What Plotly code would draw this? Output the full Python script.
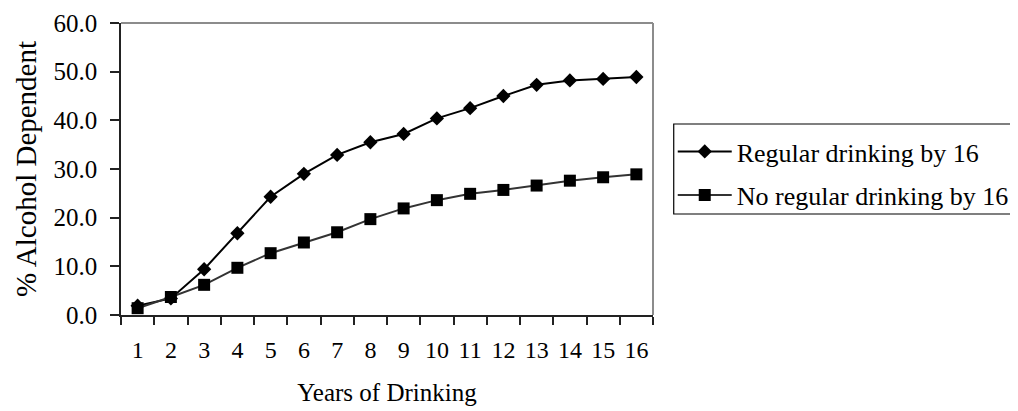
import plotly.graph_objects as go

years = [str(i) for i in range(1, 17)]
regular_by_16 = [1.9, 3.4, 9.4, 16.8, 24.3, 29.0, 32.9, 35.5, 37.2, 40.4, 42.5, 45.0, 47.3, 48.2, 48.5, 48.9]
no_regular_by_16 = [1.4, 3.7, 6.2, 9.7, 12.7, 14.9, 17.0, 19.7, 21.9, 23.6, 24.9, 25.7, 26.6, 27.6, 28.3, 28.9]
y_ticks = [0, 10, 20, 30, 40, 50, 60]

FONT = "Liberation Serif"
W, H = 1018, 411
L, R, T, B = 113, 652, 15, 307

def px_x(px):
    return (px - L) / (R - L)

def px_y(py):
    return (B - py) / (B - T)

fig = go.Figure()
fig.add_trace(go.Scatter(
    x=years, y=regular_by_16, mode="lines+markers", name="Regular drinking by 16",
    line=dict(color="#000000", width=2),
    marker=dict(symbol="diamond", size=11, color="#000000"),
    legend="legend",
))
fig.add_trace(go.Scatter(
    x=years, y=no_regular_by_16, mode="lines+markers", name="No regular drinking by 16",
    line=dict(color="#333333", width=2),
    marker=dict(symbol="square", size=12, color="#000000"),
    legend="legend2",
))

leg_common = dict(
    font=dict(family=FONT, size=26, color="#000000"),
    bgcolor="rgba(0,0,0,0)", borderwidth=0,
    xanchor="left", yanchor="middle", itemwidth=54,
)

fig.update_layout(
    width=W, height=H,
    template="none",
    paper_bgcolor="#ffffff", plot_bgcolor="#ffffff",
    margin=dict(l=L, r=W - R, t=T, b=H - B, pad=0),
    font=dict(family=FONT, size=24, color="#000000"),
    showlegend=True,
    legend=dict(x=px_x(672), y=px_y(143.5), **leg_common),
    legend2=dict(x=px_x(672), y=px_y(187), **leg_common),
    xaxis=dict(
        type="category", range=[-0.5, 15.5], tickson="boundaries",
        ticks="outside", ticklen=8, tickwidth=2, tickcolor="#222222",
        showline=True, linecolor="#222222", linewidth=2,
        showgrid=False, zeroline=False, automargin=False, tickangle=0,
        tickfont=dict(family=FONT, size=24), ticklabelstandoff=12,
        title=dict(text="Years of Drinking", font=dict(family=FONT, size=25), standoff=22),
    ),
    yaxis=dict(
        range=[0, 60], tickvals=y_ticks, tickformat=".1f",
        ticks="outside", ticklen=9, tickwidth=1.5, tickcolor="#222222",
        showline=True, linecolor="#222222", linewidth=1.5,
        showgrid=False, zeroline=False, automargin=False,
        tickfont=dict(family=FONT, size=25), ticklabelstandoff=8,
        title=dict(text="% Alcohol Dependent", font=dict(family=FONT, size=29), standoff=8),
    ),
    shapes=[
        dict(type="line", xref="paper", yref="paper", x0=0, x1=1, y0=1, y1=1,
             line=dict(color="#8c8c8c", width=2)),
        dict(type="line", xref="paper", yref="paper", x0=1, x1=1, y0=0, y1=1,
             line=dict(color="#8c8c8c", width=2)),
        dict(type="rect", xref="paper", yref="paper",
             x0=px_x(673), x1=px_x(1030), y0=px_y(206), y1=px_y(116),
             line=dict(color="#000000", width=1.2), fillcolor="rgba(0,0,0,0)"),
    ],
)

fig.write_html("out.html")
